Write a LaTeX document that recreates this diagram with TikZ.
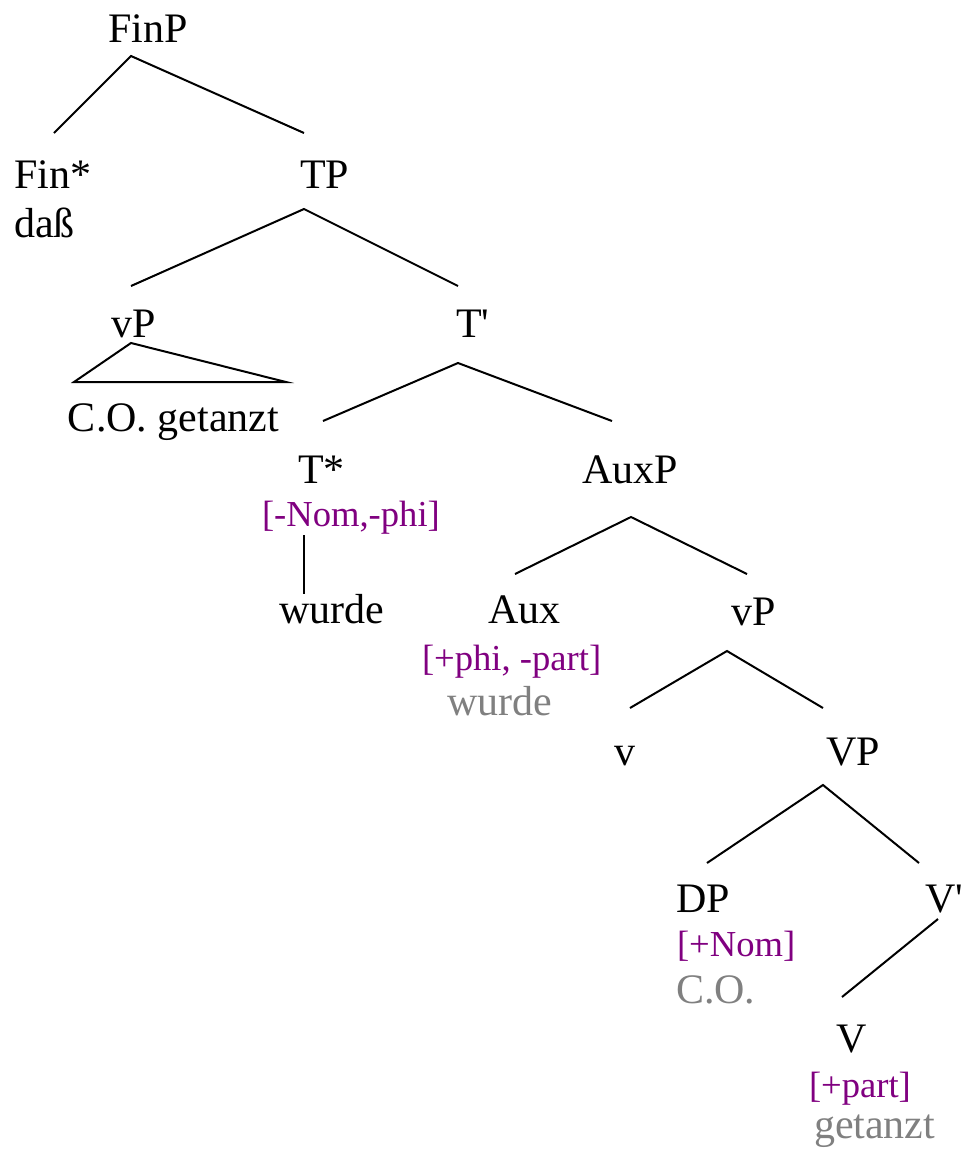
\documentclass[tikz,border=0pt]{standalone}
\usepackage{fontspec}
\newfontfamily\treefont{Liberation Serif}
\definecolor{featcol}{RGB}{128,0,128}
\definecolor{tracecol}{RGB}{128,128,128}
\tikzset{
  lbl/.style={anchor=base west,inner sep=0pt,
    font=\treefont\fontsize{21}{25}\selectfont},
  feat/.style={lbl,text=featcol,
    font=\treefont\fontsize{18.3}{22}\selectfont},
  trace/.style={lbl,text=tracecol}
}

\begin{document}
\begin{tikzpicture}[x=0.5pt,y=-0.5pt,line width=1pt]
\useasboundingbox (0,0) rectangle (964,1158);

% category labels
\node[lbl] (FinP) at (107,42) {FinP};
\node[lbl] (Fin) at (13,188) {Fin*};
\node[lbl] (dass) at (13,237) {daß};
\node[lbl] (TP) at (299,188) {TP};
\node[lbl] (vPa) at (111,337) {vP};
\node[lbl] (CO) at (67,431) {C.O. getanzt};
\node[lbl] (Tbar) at (455,337) {T'};
\node[lbl] (T) at (297,483) {T*};
\node[feat] (Tf) at (261,526) {[-Nom,-phi]};
\node[lbl] (wurdeT) at (278,623) {wurde};
\node[lbl] (AuxP) at (581,483) {AuxP};
\node[lbl] (Aux) at (487,623) {Aux};
\node[feat] (Auxf) at (421,670) {[+phi, -part]};
\node[trace] (wurdeA) at (446,715) {wurde};
\node[lbl] (vPb) at (730,625) {vP};
\node[lbl] (v) at (613,765) {v};
\node[lbl] (VP) at (825,765) {VP};
\node[lbl] (DP) at (675,912) {DP};
\node[feat] (DPf) at (676,956) {[+Nom]};
\node[trace] (COt) at (675,1003) {C.O.};
\node[lbl] (Vbar) at (924,912) {V'};
\node[lbl] (V) at (835,1052) {V};
\node[feat] (Vf) at (808,1097) {[+part]};
\node[trace] (getanzt) at (813,1138) {getanzt};

% branching points
\coordinate (FinP-a) at (131,56);
\coordinate (Fin-t) at (54,133);
\coordinate (TP-t) at (304,133);
\coordinate (TP-a) at (304,209);
\coordinate (vPa-t) at (131,286);
\coordinate (Tbar-t) at (458,286);
\coordinate (vPa-a) at (131,343);
\coordinate (CO-l) at (74,382);
\coordinate (CO-r) at (286,382);
\coordinate (Tbar-a) at (458,363);
\coordinate (T-t) at (323,421);
\coordinate (AuxP-t) at (612,421);
\coordinate (T-b) at (304,535);
\coordinate (wurdeT-t) at (304,594);
\coordinate (AuxP-a) at (631,517);
\coordinate (Aux-t) at (515,574);
\coordinate (vPb-t) at (747,574);
\coordinate (vPb-a) at (727,651);
\coordinate (v-t) at (630,708);
\coordinate (VP-t) at (823,708);
\coordinate (VP-a) at (823,785);
\coordinate (DP-t) at (707,863);
\coordinate (Vbar-t) at (919,863);
\coordinate (Vbar-a) at (938,919);
\coordinate (V-t) at (842,997);

% branches
\draw (Fin-t) -- (FinP-a) -- (TP-t);
\draw (vPa-t) -- (TP-a) -- (Tbar-t);
\draw (vPa-a) -- (CO-l) -- (CO-r) -- cycle;
\draw (T-t) -- (Tbar-a) -- (AuxP-t);
\draw (T-b) -- (wurdeT-t);
\draw (Aux-t) -- (AuxP-a) -- (vPb-t);
\draw (v-t) -- (vPb-a) -- (VP-t);
\draw (DP-t) -- (VP-a) -- (Vbar-t);
\draw (Vbar-a) -- (V-t);

\end{tikzpicture}
\end{document}
